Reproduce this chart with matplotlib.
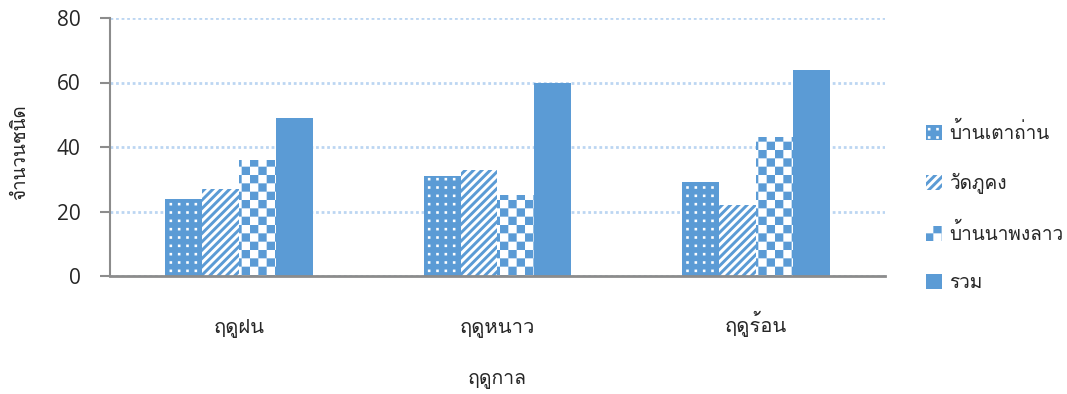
import numpy as np
import matplotlib
matplotlib.use("Agg")
import matplotlib.pyplot as plt
import matplotlib.hatch as mhatch
from matplotlib.path import Path
from matplotlib import font_manager as fm
from matplotlib.ft2font import FT2Font
from matplotlib.patches import Patch

# ---------------- data ----------------
categories = ["ฤดูฝน", "ฤดูหนาว", "ฤดูร้อน"]
series_names = ["บ้านเตาถ่าน", "วัดภูคง", "บ้านนาพงลาว", "รวม"]
ban_tao_than = [24, 31, 29]
wat_phu_khong = [27, 33, 22]
ban_na_phong_lao = [36, 25, 43]
total = [49, 60, 64]
yticks = [0, 20, 40, 60, 80]
xlabel = "ฤดูกาล"
ylabel = "จำนวนชนิด"

BLUE = "#5B9BD5"

# ---------------- find a font with Thai glyphs ----------------
def find_thai_font():
    best = None
    for f in fm.fontManager.ttflist:
        try:
            ft = FT2Font(f.fname)
            if all(ft.get_char_index(ord(c)) != 0 for c in "กขฤดูนำ"):
                name = f.name
                if best is None:
                    best = name
                if f.weight in (400, "normal", "regular") and f.style == "normal":
                    return name
        except Exception:
            continue
    return best

thai = find_thai_font()
fams = ([thai] if thai else []) + ["DejaVu Sans"]
plt.rcParams["font.family"] = fams
plt.rcParams["hatch.linewidth"] = 0.0


# ---------------- custom filled hatch patterns ----------------
def _square(cx, cy, h):
    return [(cx - h, cy - h), (cx + h, cy - h), (cx + h, cy + h), (cx - h, cy + h), (cx - h, cy - h)]


class _Filled(mhatch.HatchPatternBase):
    filled = True
    char = ""

    def __init__(self, hatch, density):
        n = hatch.count(self.char) if hatch else 0
        self.polys = self.make_polys() if n else []
        self.num_vertices = sum(len(p) for p in self.polys)

    def set_vertices_and_codes(self, vertices, codes):
        i = 0
        for p in self.polys:
            k = len(p)
            vertices[i:i + k] = p
            codes[i] = Path.MOVETO
            codes[i + 1:i + k - 1] = Path.LINETO
            codes[i + k - 1] = Path.CLOSEPOLY
            i += k


class Checker(_Filled):
    char = "O"

    def make_polys(self):
        n = 12
        s = 1.0 / n
        polys = []
        for r in range(n):
            for c in range(n):
                if (r + c) % 2 == 0:
                    x0, y0 = c * s, r * s
                    polys.append([(x0, y0), (x0 + s, y0), (x0 + s, y0 + s), (x0, y0 + s), (x0, y0)])
        return polys


class Dots(_Filled):
    char = "."

    def make_polys(self):
        n = 12
        s = 1.0 / n
        h = 0.013
        polys = []
        for r in range(n):
            for c in range(n):
                polys.append(_square((c + 0.5) * s, (r + 0.5) * s, h))
        return polys


class Stripes(_Filled):
    char = "/"

    def make_polys(self):
        n = 12
        s = 1.0 / n
        w = s * 0.5
        polys = []
        for k in range(-n - 1, n + 2):
            x = k * s
            polys.append([(x, 0), (x + w, 0), (x + w + 1, 1), (x + 1, 1), (x, 0)])
        return polys


mhatch._hatch_types[:] = [Checker, Dots, Stripes]

# ---------------- figure ----------------
fig = plt.figure(figsize=(10.67, 3.94), dpi=100)
ax = fig.add_axes([110 / 1067, 1 - 276 / 394, 775 / 1067, 258 / 394])

x = np.arange(len(categories))
bw = 0.143
values = [ban_tao_than, wat_phu_khong, ban_na_phong_lao, total]
styles = [
    dict(color=BLUE, hatch=".", edgecolor="white"),
    dict(color="white", hatch="/", edgecolor=BLUE),
    dict(color="white", hatch="O", edgecolor=BLUE),
    dict(color=BLUE, hatch=None, edgecolor=BLUE),
]
offsets = (np.arange(4) - 1.5) * bw
for vals, st, off in zip(values, styles, offsets):
    ax.bar(x + off, vals, width=bw, color=st["color"], hatch=st["hatch"],
           edgecolor=st["edgecolor"], linewidth=0, zorder=3)

ax.set_xlim(-0.5, 2.5)
ax.set_ylim(0, 80)
ax.set_yticks(yticks)
ax.set_xticks(x)
ax.set_xticklabels(categories, fontsize=14.5, color="#262626")
for lab in ax.get_xticklabels():
    lab.set_va("baseline")
ax.tick_params(axis="x", length=0, pad=40)
ax.tick_params(axis="y", length=7, width=1.5, color="#8c8c8c", pad=14, labelsize=15,
               labelcolor="#262626")
for lab in ax.get_yticklabels():
    lab.set_family(["Open Sans", "DejaVu Sans"])
ax.yaxis.grid(True, color="#bcd6f2", linestyle=(0, (1, 1)), linewidth=2, zorder=0)
ax.set_axisbelow(True)
for sp in ("top", "right"):
    ax.spines[sp].set_visible(False)
ax.spines["left"].set_color("#8c8c8c")
ax.spines["left"].set_linewidth(1.5)
ax.spines["bottom"].set_color("#8c8c8c")
ax.spines["bottom"].set_linewidth(2)
ax.spines["left"].set_zorder(5)
ax.spines["bottom"].set_zorder(5)

ax.set_xlabel(xlabel, fontsize=14, color="#262626")
ax.xaxis.label.set_va("baseline")
ax.xaxis.set_label_coords(0.5, (276 - 383) / 258)
ax.set_ylabel(ylabel, fontsize=13.5, color="#262626")
ax.yaxis.label.set_va("center")
ax.yaxis.set_label_coords((20 - 110) / 775, 0.48)

handles = [Patch(facecolor=st["color"], hatch=st["hatch"], edgecolor=st["edgecolor"], linewidth=0)
           for st in styles]
leg = fig.legend(handles, series_names, loc="center left", bbox_to_anchor=(926 / 1067, 1 - 207 / 394),
                 frameon=False, fontsize=13.7, handlelength=0.85, handleheight=0.85,
                 labelspacing=1.55, handletextpad=0.35, borderaxespad=0, borderpad=0)
for t in leg.get_texts():
    t.set_color("#262626")

fig.savefig("out.png", dpi=100)
